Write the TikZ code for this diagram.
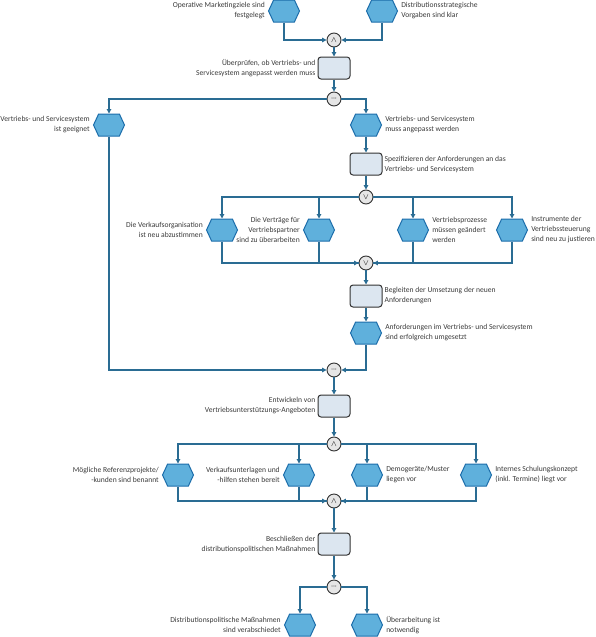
\documentclass[tikz,border=0pt]{standalone}
\usepackage{fontspec}
\setmainfont{Carlito}
\usetikzlibrary{arrows.meta,shapes.symbols}
\definecolor{evfill}{HTML}{5FB0DC}
\definecolor{evdraw}{HTML}{1C6DAA}
\definecolor{fnfill}{HTML}{DCE6F0}
\definecolor{fndraw}{HTML}{333333}
\definecolor{conn}{HTML}{2A6C93}
\definecolor{gtfill}{HTML}{E6E6E6}
\definecolor{txt}{HTML}{3A3A3A}
\begin{document}
\begin{tikzpicture}[x=1pt,y=-1pt,
  event/.style={shape=signal, signal to=east and west, signal pointer angle=130,
    minimum width=31pt, minimum height=22pt, inner sep=0pt,
    fill=evfill, draw=evdraw, line width=1pt},
  func/.style={rectangle, rounded corners=3pt, minimum width=32pt, minimum height=22pt,
    inner sep=0pt, fill=fnfill, draw=fndraw, line width=1pt},
  gate/.style={circle, minimum size=14pt, inner sep=0pt, fill=gtfill, draw=fndraw, line width=0.9pt},
  andg/.style={gate, font=\fontsize{8}{8}\selectfont, node contents={$\wedge$}},
  org/.style={gate, font=\fontsize{8}{8}\selectfont, node contents={$\vee$}},
  xorg/.style={gate, font=\fontsize{3}{3}\selectfont, text=gray, node contents={XOR}},
  lbl/.style={font=\fontsize{7.6}{10}\selectfont, text=txt, inner sep=1pt},
  lblL/.style={lbl, anchor=east, align=right},
  lblR/.style={lbl, anchor=west, align=left},
  con/.style={draw=conn, line width=1.1pt},
  arr/.style={con, -{Triangle[length=4.5pt,width=4.5pt]}}]
\useasboundingbox (0,0) rectangle (595,637);

% nodes
\node[event] (e1) at (284,11) {};
\node[event] (e2) at (382,11) {};
\node (and1) at (334,40) [andg];
\node[func] (f1) at (334,68) {};
\node (xor1) at (334,99) [xorg];
\node[event] (eg) at (109,125) {};
\node[event] (em) at (366,125) {};
\node[func] (f2) at (366,164) {};
\node (or1) at (366,197) [org];
\node[event] (ea) at (222,230) {};
\node[event] (eb) at (319,230) {};
\node[event] (ec) at (413,230) {};
\node[event] (ed) at (512,230) {};
\node (or2) at (366,263) [org];
\node[func] (f3) at (366,296) {};
\node[event] (eu) at (366,333) {};
\node (xor2) at (334,370) [xorg];
\node[func] (f4) at (334,406) {};
\node (and2) at (334,444) [andg];
\node[event] (ep) at (178,475) {};
\node[event] (ev) at (299,475) {};
\node[event] (edm) at (367,475) {};
\node[event] (ei) at (476,475) {};
\node (and3) at (334,501) [andg];
\node[func] (f5) at (334,544) {};
\node (xor3) at (334,587) [xorg];
\node[event] (el) at (300,625) {};
\node[event] (er) at (367,625) {};

% labels
\node[lblL] (t1) at ([xshift=-2pt]e1.west) {Operative Marketingziele sind\\festgelegt};
\node[lblR] (t2) at ([xshift=2pt]e2.east) {Distributionsstrategische\\Vorgaben sind klar};
\node[lblL] (t3) at ([xshift=-1pt]f1.west) {Überprüfen, ob Vertriebs- und\\Servicesystem angepasst werden muss};
\node[lblL] (t4) at ([xshift=-2pt]eg.west) {Vertriebs- und Servicesystem\\ist geeignet};
\node[lblR] (t5) at ([xshift=2pt]em.east) {Vertriebs- und Servicesystem\\muss angepasst werden};
\node[lblR] (t6) at ([xshift=1pt]f2.east) {Spezifizieren der Anforderungen an das\\Vertriebs- und Servicesystem};
\node[lblL] (t7) at ([xshift=-2pt]ea.west) {Die Verkaufsorganisation\\ist neu abzustimmen};
\node[lblL] (t8) at ([xshift=-2pt]eb.west) {Die Verträge für\\Vertriebspartner\\sind zu überarbeiten};
\node[lblR] (t9) at ([xshift=2pt]ec.east) {Vertriebsprozesse\\müssen geändert\\werden};
\node[lblR] (t10) at ([xshift=2pt]ed.east) {Instrumente der\\Vertriebssteuerung\\sind neu zu justieren};
\node[lblR] (t11) at ([xshift=1pt]f3.east) {Begleiten der Umsetzung der neuen\\Anforderungen};
\node[lblR] (t12) at ([xshift=2pt]eu.east) {Anforderungen im Vertriebs- und Servicesystem\\sind erfolgreich umgesetzt};
\node[lblL] (t13) at ([xshift=-1pt]f4.west) {Entwickeln von\\Vertriebsunterstützungs-Angeboten};
\node[lblL] (t14) at ([xshift=-2pt]ep.west) {Mögliche Referenzprojekte/\\-kunden sind benannt};
\node[lblL] (t15) at ([xshift=-2pt]ev.west) {Verkaufsunterlagen und\\-hilfen stehen bereit};
\node[lblR] (t16) at ([xshift=2pt]edm.east) {Demogeräte/Muster\\liegen vor};
\node[lblR] (t17) at ([xshift=2pt]ei.east) {Internes Schulungskonzept\\(inkl. Termine) liegt vor};
\node[lblL] (t18) at ([xshift=-1pt]f5.west) {Beschließen der\\distributionspolitischen Maßnahmen};
\node[lblL] (t19) at ([xshift=-2pt]el.west) {Distributionspolitische Maßnahmen\\sind verabschiedet};
\node[lblR] (t20) at ([xshift=2pt]er.east) {Überarbeitung ist\\notwendig};

% connectors
\draw[arr] (e1.south) |- (and1.west);
\draw[arr] (e2.south) |- (and1.east);
\draw[arr] (and1.south) -- (f1.north);
\draw[arr] (f1.south) -- (xor1.north);
\draw[arr] (xor1.west) -| (eg.north);
\draw[arr] (xor1.east) -| (em.north);
\draw[arr] (em.south) -- (f2.north);
\draw[arr] (f2.south) -- (or1.north);
\draw[arr] (or1.west) -| (ea.north);
\draw[arr] (or1.west) -| (eb.north);
\draw[arr] (or1.east) -| (ec.north);
\draw[arr] (or1.east) -| (ed.north);
\draw[arr] (ea.south) |- (or2.west);
\draw[con] (eb.south) |- (or2.west);
\draw[con] (ec.south) |- (or2.east);
\draw[arr] (ed.south) |- (or2.east);
\draw[arr] (or2.south) -- (f3.north);
\draw[arr] (f3.south) -- (eu.north);
\draw[arr] (eg.south) |- (xor2.west);
\draw[arr] (eu.south) |- (xor2.east);
\draw[arr] (xor2.south) -- (f4.north);
\draw[arr] (f4.south) -- (and2.north);
\draw[arr] (and2.west) -| (ep.north);
\draw[arr] (and2.west) -| (ev.north);
\draw[arr] (and2.east) -| (edm.north);
\draw[arr] (and2.east) -| (ei.north);
\draw[arr] (ep.south) |- (and3.west);
\draw[con] (ev.south) |- (and3.west);
\draw[con] (edm.south) |- (and3.east);
\draw[arr] (ei.south) |- (and3.east);
\draw[arr] (and3.south) -- (f5.north);
\draw[arr] (f5.south) -- (xor3.north);
\draw[arr] (xor3.west) -| (el.north);
\draw[arr] (xor3.east) -| (er.north);
\end{tikzpicture}
\end{document}
